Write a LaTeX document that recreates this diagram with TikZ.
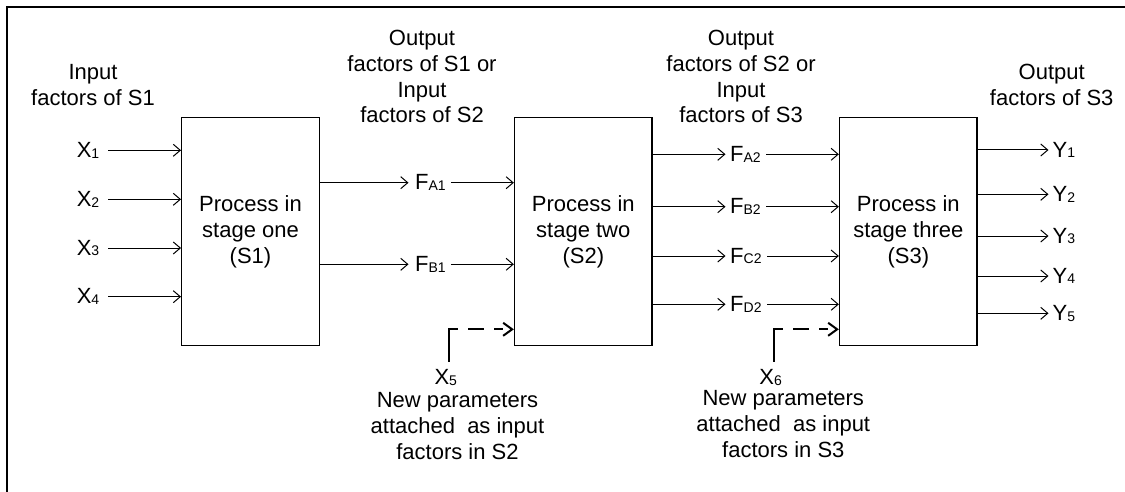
\documentclass[tikz,border=0pt]{standalone}
\usepackage{fontspec}
\setmainfont{Liberation Sans}
\usetikzlibrary{arrows.meta}
\newcommand\subtxt[1]{\raisebox{-0.8pt}{\fontsize{14}{14}\selectfont #1}}
\begin{document}
\begin{tikzpicture}[x=1pt,y=-1pt,
  font=\fontsize{22}{25.8}\selectfont,
  stagebox/.style={draw, line width=1.3pt, minimum width=137.6pt, minimum height=228pt, inner sep=0pt, align=center},
  lab/.style={inner sep=0pt},
  blocklab/.style={inner sep=0pt, align=center, anchor=north},
  arr/.style={line width=1pt, -{Straight Barb[length=7pt,width=12pt]}},
  newarr/.style={line width=2pt, dash pattern=on 9pt off 10pt on 16pt off 10pt, -{Straight Barb[length=9pt,width=13pt]}},
  stem/.style={line width=2pt},
  frameline/.style={line width=2pt}]

\useasboundingbox (0,0) rectangle (1125,492);
\draw[frameline] (7,492) -- (7,7) -- (1125,7);

% stage boxes
\node[stagebox] (s1) at (250.5,231.7) {Process in\\stage one\\(S1)};
\node[stagebox] (s2) at (583.3,231.7) {Process in\\stage two\\(S2)};
\node[stagebox] (s3) at (908.3,231.7) {Process in\\stage three\\(S3)};

% header labels
\node[blocklab] (in1) at (93,64) {Input\\factors of S1};
\node[blocklab] (out1) at (422,30) {Output\\factors of S1 or\\Input\\factors of S2};
\node[blocklab] (out2) at (741,30) {Output\\factors of S2 or\\Input\\factors of S3};
\node[blocklab] (out3) at (1051.7,64) {Output\\factors of S3};

% inputs of S1
\foreach \i/\y in {1/150.3,2/199.3,3/248,4/296.7}{
  \node[lab] (x\i) at (88,\y) {X\subtxt{\i}};
  \draw[arr] ([xshift=9pt]x\i.east) -- (x\i -| s1.west);
}

% S1 -> S2
\foreach \n/\y in {A1/182.7,B1/264.3}{
  \node[lab,anchor=west] (f\n) at (415,\y) {F\subtxt{\n}};
  \draw[arr] (s1.east |- f\n.west) -- ([xshift=-6.5pt]f\n.west);
  \draw[arr] ([xshift=5pt]f\n.east) -- (f\n.east -| s2.west);
}

% S2 -> S3
\foreach \n/\y in {A2/154.3,B2/206.7,C2/256,D2/304.3}{
  \node[lab,anchor=west] (f\n) at (730,\y) {F\subtxt{\n}};
  \draw[arr] (s2.east |- f\n.west) -- ([xshift=-4.5pt]f\n.west);
  \draw[arr] ([xshift=5.5pt]f\n.east) -- (f\n.east -| s3.west);
}

% outputs of S3
\foreach \i/\y in {1/150,2/194.3,3/236,4/276,5/313.3}{
  \node[lab,anchor=west] (y\i) at (1052.5,\y) {Y\subtxt{\i}};
  \draw[arr] (s3.east |- y\i.west) -- ([xshift=-4pt]y\i.west);
}

% new parameters X5
\node[lab] (x5) at (445.8,377.8) {X\subtxt{5}};
\node[blocklab] (np5) at (457.5,392.5) {New parameters\\attached~~as input\\factors in S2};
\coordinate (b5) at (449.3,361.7);
\coordinate (c5) at (449.3,329.3);
\draw[stem] (b5) -- ([yshift=1pt]c5);
\draw[newarr] (c5) -- (c5 -| s2.west);

% new parameters X6
\node[lab] (x6) at (770.7,377.5) {X\subtxt{6}};
\node[blocklab] (np6) at (783.3,390.5) {New parameters\\attached~~as input\\factors in S3};
\coordinate (b6) at (774,361.7);
\coordinate (c6) at (774,329.3);
\draw[stem] (b6) -- ([yshift=1pt]c6);
\draw[newarr] (c6) -- (c6 -| s3.west);
\end{tikzpicture}
\end{document}
